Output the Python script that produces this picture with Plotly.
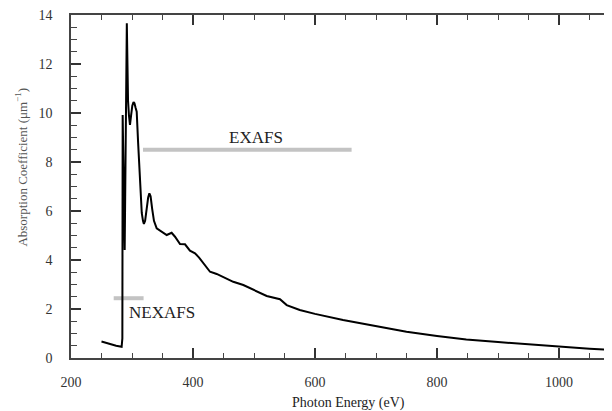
import plotly.graph_objects as go

# Photon energy (eV) and absorption coefficient (um^-1)
energy = [250, 262, 274, 283, 284.2, 284.7, 288, 291.5, 292.5, 293.5, 295, 296.7,
          298.5, 300.5, 302.5, 304, 306, 307.7, 310, 312, 314, 316, 318, 319.5,
          321.5, 324, 326.5, 328.5, 330.5, 333, 336, 340.5, 348, 356.9, 365,
          370.5, 378.7, 386.9, 395, 403.3, 410, 416.9, 427.9, 438.8, 452, 466,
          482.5, 498.9, 520.8, 542.6, 553.6, 575, 600, 646, 701, 750, 800, 848,
          900, 949, 1000, 1050, 1100]
absorption = [0.67, 0.58, 0.50, 0.46, 0.80, 9.92, 4.41, 13.66, 10.6, 10.5, 9.9, 9.51,
              9.9, 10.3, 10.45, 10.4, 10.2, 10.05, 8.8, 7.6, 6.6, 5.92, 5.6, 5.47,
              5.6, 6.1, 6.55, 6.72, 6.6, 6.1, 5.6, 5.29, 5.15, 5.02, 5.11,
              4.95, 4.65, 4.64, 4.38, 4.27, 4.1, 3.87, 3.52, 3.43, 3.27, 3.11,
              2.98, 2.78, 2.53, 2.40, 2.16, 1.96, 1.80, 1.55, 1.28, 1.07, 0.90, 0.76,
              0.65, 0.56, 0.46, 0.38, 0.31]

# Region markers
exafs_range = [318, 660]
exafs_level = 8.5
nexafs_range = [270, 319]
nexafs_level = 2.44

x_ticks = [200, 400, 600, 800, 1000]
y_ticks = [0, 2, 4, 6, 8, 10, 12, 14]

FONT = "Liberation Serif"

fig = go.Figure()
fig.add_trace(go.Scatter(x=exafs_range, y=[exafs_level] * 2, mode="lines",
                         line=dict(color="#c3c3c3", width=4), hoverinfo="skip"))
fig.add_trace(go.Scatter(x=nexafs_range, y=[nexafs_level] * 2, mode="lines",
                         line=dict(color="#c3c3c3", width=4), hoverinfo="skip"))
fig.add_trace(go.Scatter(x=energy, y=absorption, mode="lines",
                         line=dict(color="black", width=2)))

fig.add_annotation(x=504, y=9.0, xref="x", yref="y", text="EXAFS", showarrow=False,
                   xanchor="center", yanchor="middle",
                   font=dict(family=FONT, size=17, color="#222"))
fig.add_annotation(x=291.5, y=1.84, xref="x", yref="y", text="NEXAFS", showarrow=False,
                   xanchor="left", yanchor="middle",
                   font=dict(family=FONT, size=17, color="#222"))
fig.add_annotation(x=0.506, y=-0.130, xref="paper", yref="paper",
                   text="Photon Energy (eV)", showarrow=False,
                   xanchor="center", yanchor="middle",
                   font=dict(family=FONT, size=14, color="#222"))
fig.add_annotation(x=-0.0911, y=0.558, xref="paper", yref="paper", textangle=-90,
                   text="Absorption Coefficient (μm<sup>−1</sup>)", showarrow=False,
                   xanchor="center", yanchor="middle",
                   font=dict(family=FONT, size=13, color="#555"))

fig.update_layout(
    width=612, height=403,
    margin=dict(l=63, r=0, t=7, b=53, autoexpand=False),
    paper_bgcolor="white", plot_bgcolor="white",
    showlegend=False,
    font=dict(family=FONT, size=14, color="#333"),
)
fig.update_xaxes(range=[200, 1100], tickvals=x_ticks, showgrid=False, zeroline=False,
                 automargin=False, ticklabeloverflow="allow",
                 showline=True, linecolor="#444", linewidth=1.5, mirror="ticks",
                 ticks="inside", ticklen=10, tickwidth=1.5, tickcolor="#333",
                 ticklabelstandoff=10,
                 tickfont=dict(family=FONT, size=14, color="#333"),
                 minor=dict(dtick=50, tick0=200, ticks="inside", ticklen=5,
                            tickwidth=1.2, tickcolor="#444", showgrid=False))
fig.update_yaxes(range=[0, 14], tickvals=y_ticks, showgrid=False, zeroline=False,
                 automargin=False, ticklabeloverflow="allow",
                 showline=True, linecolor="#444", linewidth=1.5, mirror="ticks",
                 ticks="inside", ticklen=10, tickwidth=1.5, tickcolor="#333",
                 ticklabelstandoff=14,
                 tickfont=dict(family=FONT, size=14, color="#333"),
                 minor=dict(dtick=0.5, tick0=0, ticks="inside", ticklen=6,
                            tickwidth=1.2, tickcolor="#444", showgrid=False))

fig.write_html("out.html")
